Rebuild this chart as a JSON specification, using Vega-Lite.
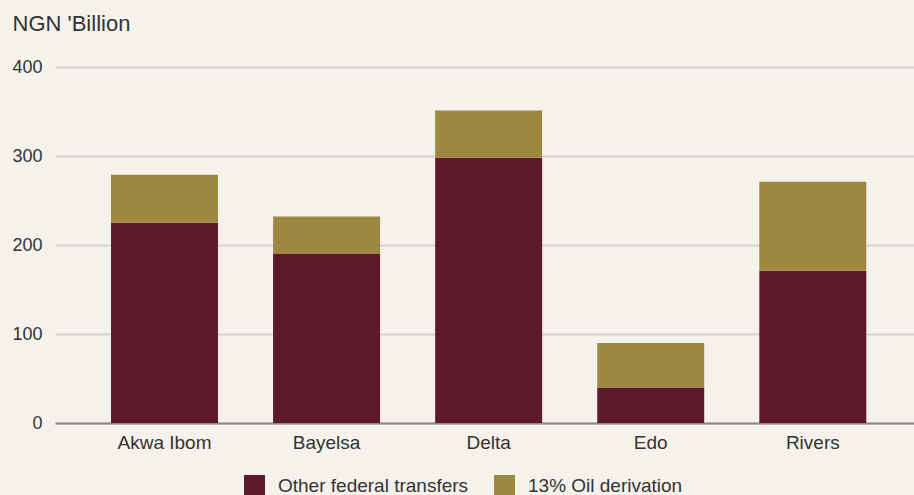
{
  "$schema": "https://vega.github.io/schema/vega-lite/v6.json",
  "autosize": {"type": "none"},
  "width": 859,
  "height": 356,
  "padding": {"left": 55, "top": 67, "right": 0, "bottom": 72},
  "background": "#f5f2ec",
  "config": {
    "font": "Liberation Sans",
    "view": {"stroke": null},
    "axis": {"labelColor": "#333333", "titleColor": "#333333"}
  },
  "data": {
    "values": [
      {"state": "Akwa Ibom", "source": "Other federal transfers", "rank": 1, "amount": 225},
      {"state": "Akwa Ibom", "source": "13% Oil derivation", "rank": 2, "amount": 54},
      {"state": "Bayelsa", "source": "Other federal transfers", "rank": 1, "amount": 190},
      {"state": "Bayelsa", "source": "13% Oil derivation", "rank": 2, "amount": 42},
      {"state": "Delta", "source": "Other federal transfers", "rank": 1, "amount": 298},
      {"state": "Delta", "source": "13% Oil derivation", "rank": 2, "amount": 53},
      {"state": "Edo", "source": "Other federal transfers", "rank": 1, "amount": 40},
      {"state": "Edo", "source": "13% Oil derivation", "rank": 2, "amount": 50},
      {"state": "Rivers", "source": "Other federal transfers", "rank": 1, "amount": 171},
      {"state": "Rivers", "source": "13% Oil derivation", "rank": 2, "amount": 100}
    ]
  },
  "mark": {"type": "bar"},
  "encoding": {
    "x": {
      "field": "state",
      "type": "nominal",
      "sort": null,
      "scale": {"paddingInner": 0.34, "paddingOuter": 0.32, "align": 0.54},
      "axis": {
        "title": null,
        "labelAngle": 0,
        "labelFontSize": 19,
        "labelPadding": 10,
        "ticks": false,
        "domainColor": "#8a8a8a",
        "domainWidth": 2
      }
    },
    "y": {
      "field": "amount",
      "type": "quantitative",
      "stack": "zero",
      "scale": {"domain": [0, 400]},
      "axis": {
        "values": [0, 100, 200, 300, 400],
        "title": "NGN 'Billion",
        "titleAngle": 0,
        "titleAlign": "left",
        "titleBaseline": "top",
        "titleX": -43,
        "titleY": -54,
        "titleFontSize": 22,
        "titleFontWeight": "normal",
        "labelFontSize": 18,
        "labelPadding": 13,
        "ticks": false,
        "domain": false,
        "gridColor": "#d6d3cd",
        "gridWidth": 2
      }
    },
    "color": {
      "field": "source",
      "type": "nominal",
      "scale": {
        "domain": ["Other federal transfers", "13% Oil derivation"],
        "range": ["#5c1a2a", "#9e8741"]
      },
      "legend": {
        "title": null,
        "orient": "none",
        "direction": "horizontal",
        "legendX": 189,
        "legendY": 408,
        "symbolType": "square",
        "symbolSize": 441,
        "symbolStrokeWidth": 0,
        "labelFontSize": 19,
        "labelLimit": 0,
        "labelColor": "#333333",
        "labelOffset": 13,
        "columnPadding": 25
      }
    },
    "order": {"field": "rank", "type": "quantitative"}
  }
}
